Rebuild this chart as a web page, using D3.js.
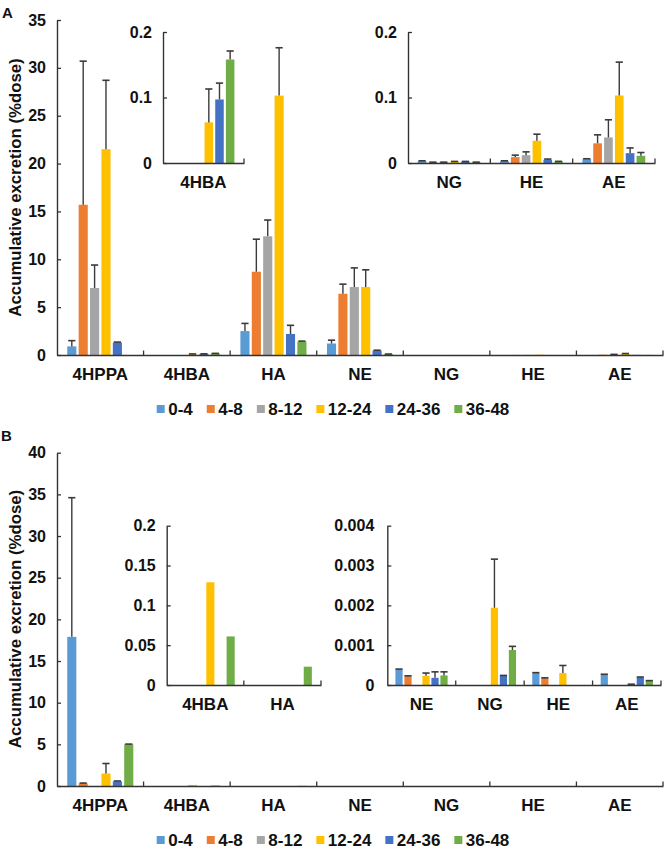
<!DOCTYPE html>
<html>
<head>
<meta charset="utf-8">
<script src="https://cdn.jsdelivr.net/npm/d3@7"></script>
<style>
  body { margin: 0; background: #fff; }
  svg { display: block; }
  text { font-family: "Liberation Sans", Arial, sans-serif; font-weight: bold; fill: #111; }
</style>
</head>
<body>
<svg id="chart" width="666" height="849"></svg>
<script>
// ---------------- DATA ----------------
const categories = ["4HPPA", "4HBA", "HA", "NE", "NG", "HE", "AE"];
const seriesNames = ["0-4", "4-8", "8-12", "12-24", "24-36", "36-48"];
const seriesColors = ["#5B9BD5", "#ED7D31", "#A5A5A5", "#FFC000", "#4472C4", "#70AD47"];

// Panel A: accumulative excretion (%dose), mean and SD per collection interval (h)
const aMean0_4   = [0.9, 0, 2.5, 1.2, 0.003, 0.003, 0.006];
const aSd0_4     = [0.6, 0, 0.8, 0.35, 0.0004, 0.0004, 0.0005];
const aMean4_8   = [15.7, 0, 8.7, 6.4, 0.001, 0.009, 0.030];
const aSd4_8     = [15.0, 0, 3.4, 1.0, 0.0003, 0.003, 0.013];
const aMean8_12  = [7.0, 0, 12.4, 7.1, 0.001, 0.012, 0.039];
const aSd8_12    = [2.4, 0, 1.7, 2.0, 0.0003, 0.005, 0.027];
const aMean12_24 = [21.5, 0.062, 27.1, 7.1, 0.002, 0.034, 0.103];
const aSd12_24   = [7.2, 0.051, 5.0, 1.8, 0.0004, 0.010, 0.051];
const aMean24_36 = [1.3, 0.097, 2.2, 0.45, 0.002, 0.005, 0.015];
const aSd24_36   = [0.05, 0.025, 0.9, 0.05, 0.0004, 0.001, 0.008];
const aMean36_48 = [0, 0.158, 1.4, 0.08, 0.001, 0.002, 0.011];
const aSd36_48   = [0, 0.013, 0.05, 0.02, 0.0003, 0.0005, 0.005];

// Panel B
const bMean0_4   = [17.9, 0, 0, 0.00039, 0, 0.00030, 0.00026];
const bSd0_4     = [16.7, 0, 0, 0.00001, 0, 0.00001, 0.00001];
const bMean4_8   = [0.3, 0, 0, 0.00022, 0, 0.00017, 0];
const bSd4_8     = [0.05, 0, 0, 0.00001, 0, 0.00001, 0];
const bMean8_12  = [0, 0, 0, 0, 0, 0, 0];
const bSd8_12    = [0, 0, 0, 0, 0, 0, 0];
const bMean12_24 = [1.5, 0.129, 0, 0.00023, 0.00194, 0.00030, 0.00001];
const bSd12_24   = [1.2, 0, 0, 0.00007, 0.00122, 0.00019, 0.00001];
const bMean24_36 = [0.55, 0, 0, 0.00018, 0.00023, 0, 0.00019];
const bSd24_36   = [0.05, 0, 0, 0.00015, 0.00001, 0, 0.00001];
const bMean36_48 = [5.0, 0.061, 0.023, 0.00024, 0.00088, 0, 0.00010];
const bSd36_48   = [0.03, 0, 0, 0.00009, 0.00009, 0, 0.00001];

// Axis ticks
const mainTicksA = [0, 5, 10, 15, 20, 25, 30, 35];
const mainTicksB = [0, 5, 10, 15, 20, 25, 30, 35, 40];
const insetTicksA = [0, 0.1, 0.2];
const insetTickLabelsA = ["0", "0.1", "0.2"];
const insetTicksB1 = [0, 0.05, 0.1, 0.15, 0.2];
const insetTickLabelsB1 = ["0", "0.05", "0.1", "0.15", "0.2"];
const insetTicksB2 = [0, 0.001, 0.002, 0.003, 0.004];
const insetTickLabelsB2 = ["0", "0.001", "0.002", "0.003", "0.004"];

const insetCatsA1 = ["4HBA"];
const insetCatsA2 = ["NG", "HE", "AE"];
const insetCatsB1 = ["4HBA", "HA"];
const insetCatsB2 = ["NE", "NG", "HE", "AE"];

const yTitle = "Accumulative excretion (%dose)";

// ---------------- DRAWING ----------------
const meansA = [aMean0_4, aMean4_8, aMean8_12, aMean12_24, aMean24_36, aMean36_48];
const sdsA = [aSd0_4, aSd4_8, aSd8_12, aSd12_24, aSd24_36, aSd36_48];
const meansB = [bMean0_4, bMean4_8, bMean8_12, bMean12_24, bMean24_36, bMean36_48];
const sdsB = [bSd0_4, bSd4_8, bSd8_12, bSd12_24, bSd24_36, bSd36_48];

const svg = d3.select("#chart");
const AXIS = "#333";

function drawPanel(o) {
  const g = svg.append("g");
  const x = d3.scaleBand(o.cats, [o.x0, o.x1]).paddingInner(0).paddingOuter(0);
  const xi = d3.scaleBand(seriesNames, [0, x.bandwidth()]).paddingInner(0.2).paddingOuter(0.9);
  const y = d3.scaleLinear([0, o.max], [o.yb, o.yt]);

  // bars
  seriesNames.forEach((s, si) => {
    o.cats.forEach(c => {
      const ci = categories.indexOf(c);
      const v = o.means[si][ci];
      if (v > 0) {
        g.append("rect")
          .attr("x", x(c) + xi(s))
          .attr("width", xi.bandwidth())
          .attr("y", y(v))
          .attr("height", y(0) - y(v))
          .attr("fill", seriesColors[si]);
      }
    });
  });
  // error bars (upper only); skipped when they would sit on the baseline
  seriesNames.forEach((s, si) => {
    o.cats.forEach(c => {
      const ci = categories.indexOf(c);
      const v = o.means[si][ci];
      const sd = o.sds[si][ci];
      const top = y(v + sd);
      if (sd > 0 && y(0) - top > 0.6) {
        const cx = x(c) + xi(s) + xi.bandwidth() / 2;
        g.append("line").attr("x1", cx).attr("x2", cx).attr("y1", y(v)).attr("y2", top)
          .attr("stroke", "#3a3a3a").attr("stroke-width", 1.4);
        g.append("line").attr("x1", cx - 3.6).attr("x2", cx + 3.6).attr("y1", top).attr("y2", top)
          .attr("stroke", "#3a3a3a").attr("stroke-width", 1.6);
      }
    });
  });

  // y axis (ticks pointing inward)
  const yAxis = d3.axisLeft(y).tickValues(o.ticks)
    .tickFormat((d, i) => o.tickLabels ? o.tickLabels[i] : d3.format("d")(d))
    .tickSizeInner(-4).tickSizeOuter(0).tickPadding(o.tickPad || 11);
  const ya = g.append("g").attr("transform", `translate(${o.x0},0)`).call(yAxis);
  ya.select(".domain").attr("stroke", AXIS).attr("stroke-width", 1.4);
  ya.selectAll(".tick line").attr("stroke", AXIS).attr("stroke-width", 1.3);
  ya.selectAll("text").attr("font-size", o.tickFont || 16).attr("fill", "#111");
  ya.attr("font-family", null);

  // x axis: labels at category centers, ticks at boundaries pointing up
  const xAxis = d3.axisBottom(x).tickSize(0).tickPadding(13);
  const xa = g.append("g").attr("transform", `translate(0,${o.yb})`).call(xAxis);
  xa.select(".domain").attr("stroke", AXIS).attr("stroke-width", 1.4);
  xa.selectAll("text").attr("font-size", o.catFont || 17).attr("fill", "#111");
  xa.attr("font-family", null);
  o.cats.forEach(c => {
    const bx = x(c) + x.bandwidth();
    g.append("line").attr("x1", bx).attr("x2", bx).attr("y1", o.yb).attr("y2", o.yb - 4.5)
      .attr("stroke", AXIS).attr("stroke-width", 1.3);
  });
  return g;
}

function drawLegend(cy) {
  const g = svg.append("g");
  let xPos = 0;
  const items = [];
  seriesNames.forEach((s, i) => {
    const it = g.append("g");
    it.append("rect").attr("x", 0).attr("y", -4).attr("width", 8).attr("height", 8).attr("fill", seriesColors[i]);
    const t = it.append("text").attr("x", 11.5).attr("y", 0).attr("dy", "0.36em").attr("font-size", 17).text(s);
    const w = 11.5 + t.node().getComputedTextLength();
    items.push({ it, xPos });
    xPos += w + 14;
  });
  const total = xPos - 14;
  const start = 333 - total / 2;
  items.forEach(d => d.it.attr("transform", `translate(${start + d.xPos},${cy})`));
}

function drawYTitle(cy) {
  svg.append("text").attr("transform", `translate(15,${cy}) rotate(-90)`)
    .attr("text-anchor", "middle").attr("dy", "0.35em").attr("font-size", 16.8).text(yTitle);
}

// ---- Panel A ----
svg.append("text").attr("x", 2).attr("y", 18).attr("font-size", 15).text("A");
drawPanel({ cats: categories, x0: 57, x1: 663, yb: 355, yt: 20, max: 35, ticks: mainTicksA, means: meansA, sds: sdsA });
drawPanel({ cats: insetCatsA1, x0: 163, x1: 244, yb: 163, yt: 32, max: 0.2, ticks: insetTicksA, tickLabels: insetTickLabelsA, means: meansA, sds: sdsA });
drawPanel({ cats: insetCatsA2, x0: 408, x1: 655, yb: 163, yt: 32, max: 0.2, ticks: insetTicksA, tickLabels: insetTickLabelsA, means: meansA, sds: sdsA });
drawYTitle(187.5);
drawLegend(409);

// ---- Panel B ----
svg.append("text").attr("x", 1).attr("y", 441).attr("font-size", 15).text("B");
drawPanel({ cats: categories, x0: 57, x1: 663, yb: 786, yt: 452.7, max: 40, ticks: mainTicksB, means: meansB, sds: sdsB });
drawPanel({ cats: insetCatsB1, x0: 166.7, x1: 321, yb: 685, yt: 525.7, max: 0.2, ticks: insetTicksB1, tickLabels: insetTickLabelsB1, means: meansB, sds: sdsB });
drawPanel({ cats: insetCatsB2, x0: 387.3, x1: 661, yb: 685, yt: 525.7, max: 0.004, ticks: insetTicksB2, tickLabels: insetTickLabelsB2, means: meansB, sds: sdsB, tickPad: 13 });
drawYTitle(619);
drawLegend(840);
</script>
</body>
</html>
